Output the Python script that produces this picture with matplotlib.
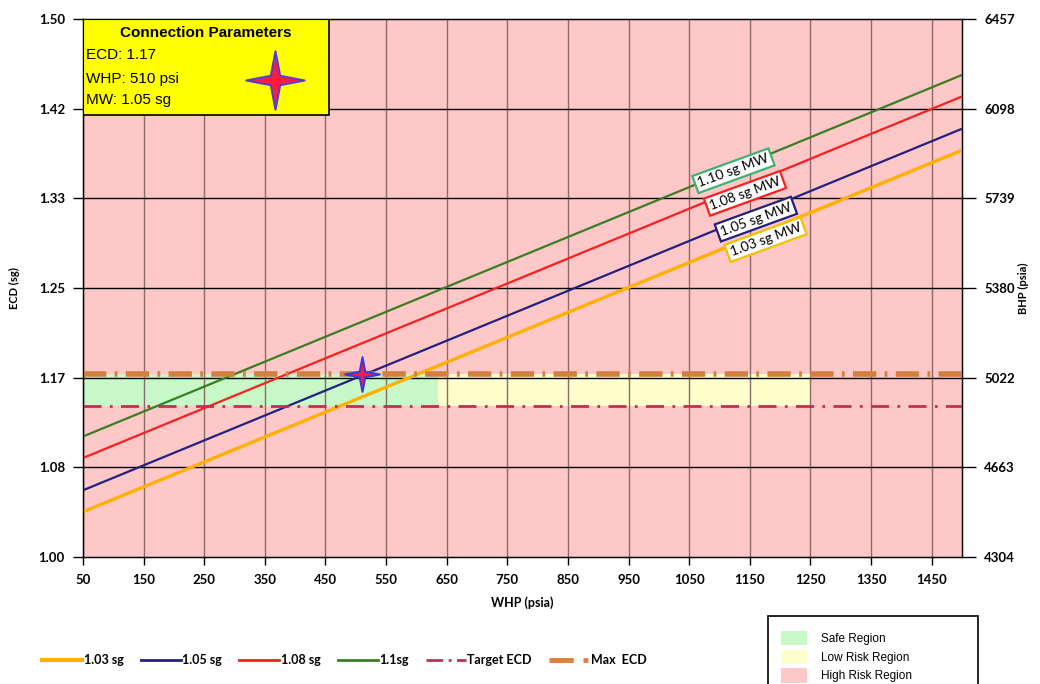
import matplotlib
matplotlib.use("Agg")
import matplotlib.pyplot as plt
from matplotlib.path import Path
from matplotlib.patches import Rectangle, Patch
from matplotlib.lines import Line2D

# ---- data -------------------------------------------------------------
whp_ends = [50, 1500]                      # WHP range (psia)
ecd_103 = [1.042, 1.378]                   # 1.03 sg mud weight line
ecd_105 = [1.062, 1.398]                   # 1.05 sg mud weight line
ecd_108 = [1.092, 1.428]                   # 1.08 sg mud weight line
ecd_110 = [1.112, 1.448]                   # 1.10 sg mud weight line
max_ecd = 1.17
target_ecd = 1.14
safe_whp = [50, 635]
low_risk_whp = [635, 1250]
conn_whp, conn_ecd = 510, 1.17

x_ticks = [50, 150, 250, 350, 450, 550, 650, 750, 850, 950, 1050, 1150, 1250, 1350, 1450]
ecd_ticks = [1.0, 1.0833, 1.1667, 1.25, 1.3333, 1.4167, 1.5]
ecd_labels = ["1.00", "1.08", "1.17", "1.25", "1.33", "1.42", "1.50"]
bhp_ticks = [4304, 4663, 5022, 5380, 5739, 6098, 6457]

mw_names = ["1.03 sg", "1.05 sg", "1.08 sg", "1.1sg"]
mw_tags = ["1.03 sg MW", "1.05 sg MW", "1.08 sg MW", "1.10 sg MW"]
tag_pos = [(1176, 1.295), (1160, 1.314), (1142, 1.338), (1123, 1.359)]
colors = ["#FFB000", "#22217F", "#FF1E1E", "#3B7D23"]
tag_edges = ["#F2C200", "#22217F", "#FF1E1E", "#3CB371"]

PINK = "#FFC8C8"
GREEN = "#C8F7C8"
YELLOW = "#FFFFCC"

UI = ["Lato", "DejaVu Sans"]
ARIAL = ["Liberation Sans", "DejaVu Sans"]

# four-point star marker
star = Path([(0, 1), (0.16, 0.16), (1, 0), (0.16, -0.16), (0, -1),
             (-0.16, -0.16), (-1, 0), (-0.16, 0.16), (0, 1)],
            [Path.MOVETO] + [Path.LINETO] * 7 + [Path.CLOSEPOLY])

fig = plt.figure(figsize=(10.4, 6.84), dpi=100)
ax = fig.add_axes([0.0798, 0.1857, 0.8452, 0.7865])
ax.set_facecolor(PINK)
ax.set_xlim(50, 1500)
ax.set_ylim(1.0, 1.5)

# risk regions
ax.fill_between(safe_whp, target_ecd, max_ecd, color=GREEN, zorder=1, lw=0)
ax.fill_between(low_risk_whp, target_ecd, max_ecd, color=YELLOW, zorder=1, lw=0)

# grid
for xv in x_ticks:
    ax.axvline(xv, color="#8C6A6A", lw=1.0, zorder=2)
for yv in ecd_ticks[1:-1]:
    ax.axhline(yv, color="black", lw=1.0, zorder=2)

# mud weight lines
series = [ecd_103, ecd_105, ecd_108, ecd_110]
widths = [2.4, 1.6, 1.6, 1.6]
for ys, c, lw in zip(series, colors, widths):
    ax.plot(whp_ends, ys, color=c, lw=lw, zorder=4, solid_capstyle="butt")

# limit lines
ax.plot(whp_ends, [target_ecd] * 2, color="#C23050", lw=2.0,
        linestyle=(0, (6.5, 3, 1, 3)), zorder=5)
ax.plot(whp_ends, [max_ecd] * 2, color="#D2803C", lw=4.0,
        linestyle=(0, (4.2, 1.5, 0.5, 1.5)), zorder=5)

# connection point
ax.plot([conn_whp], [conn_ecd], marker=star, markersize=25,
        markerfacecolor="#FF1A3C", markeredgecolor="#3A3AE0",
        markeredgewidth=1.5, zorder=7, clip_on=False)

# line tags
for (tx, ty), txt, ec in zip(tag_pos, mw_tags, tag_edges):
    ax.text(tx, ty, txt, rotation=20, rotation_mode="anchor",
            ha="center", va="center", fontsize=10, family=UI, zorder=8,
            bbox=dict(boxstyle="square,pad=0.22", fc="white", ec=ec, lw=1.6))

# axes styling
ax.set_xticks(x_ticks)
ax.set_xticklabels([str(v) for v in x_ticks])
ax.set_yticks(ecd_ticks)
ax.set_yticklabels(ecd_labels)
for lab in ax.get_xticklabels() + ax.get_yticklabels():
    lab.set_family(UI)
    lab.set_fontweight("bold")
    lab.set_fontsize(9.5)
ax.tick_params(axis="y", direction="out", length=7, width=1, pad=6)
ax.tick_params(axis="x", direction="out", length=6, width=1, pad=6)
for s in ax.spines.values():
    s.set_color("black")
    s.set_linewidth(1.0)
ax.set_xlabel("WHP (psia)", family=UI, fontweight="bold", fontsize=9, labelpad=8)
ax.set_ylabel("ECD (sg)", family=UI, fontweight="bold", fontsize=8)
ax.yaxis.set_label_coords(-0.0718, 0.5)

ax2 = ax.twinx()
ax2.set_ylim(bhp_ticks[0], bhp_ticks[-1])
ax2.set_yticks(bhp_ticks)
ax2.set_yticklabels([str(v) for v in bhp_ticks])
for lab in ax2.get_yticklabels():
    lab.set_family(UI)
    lab.set_fontweight("bold")
    lab.set_fontsize(9.5)
ax2.tick_params(axis="y", direction="out", length=10, width=1, pad=6)
ax2.set_ylabel("BHP (psia)", family=UI, fontweight="bold", fontsize=8, rotation=90)
ax2.yaxis.set_label_coords(1.064, 0.5)

# connection parameters box
box = Rectangle((0, 0.8216), 0.28, 0.1784, transform=ax.transAxes,
                facecolor="#FFFF00", edgecolor="black", lw=1.2, zorder=9)
ax.add_patch(box)
ax.text(0.14, 0.987, "Connection Parameters", transform=ax.transAxes,
        ha="center", va="top", fontsize=11, fontweight="bold",
        family=ARIAL, zorder=10)
for yy, line in zip([0.933, 0.889, 0.849], ["ECD: 1.17", "WHP: 510 psi", "MW: 1.05 sg"]):
    ax.text(0.003, yy, line, transform=ax.transAxes,
            ha="left", va="center", fontsize=11, family=ARIAL, zorder=10)
ax.plot([0.218], [0.886], transform=ax.transAxes, marker=star,
        markersize=42, markerfacecolor="#FF1A3C", markeredgecolor="#5A3AD0",
        markeredgewidth=1.5, zorder=10, clip_on=False)

# series legend
handles = [Line2D([], [], color=c, lw=lw) for c, lw in zip(colors, [3, 2, 2, 2])]
handles += [Line2D([], [], color="#C23050", lw=2, linestyle=(0, (6, 2, 1, 2))),
            Line2D([], [], color="#E0803C", lw=3.5, linestyle=(0, (5, 2, 1, 2)))]
labels = mw_names + ["Target ECD", "Max  ECD"]
fig.legend(handles, labels, loc="center left", bbox_to_anchor=(0.03, 0.035),
           ncol=6, frameon=False, handlelength=3.2, handletextpad=0.1,
           columnspacing=1.4, prop=dict(family=UI, weight="bold", size=9))

# region legend with a fixed frame
frame = Rectangle((768 / 1040, -10 / 684), 210 / 1040, 78 / 684,
                  transform=fig.transFigure, facecolor="white",
                  edgecolor="black", lw=1.2, zorder=1)
fig.patches.append(frame)
fig.legend([Patch(fc=GREEN, ec="none"), Patch(fc=YELLOW, ec="none"),
            Patch(fc=PINK, ec="none")],
           ["Safe Region", "Low Risk Region", "High Risk Region"],
           loc="upper left", bbox_to_anchor=(0.745, 0.086), frameon=False,
           handlelength=2.2, handleheight=1.5, labelspacing=0.35,
           handletextpad=1.2, borderpad=0.0,
           prop=dict(family=ARIAL, size=8.5))

fig.savefig("out.png", dpi=100)
